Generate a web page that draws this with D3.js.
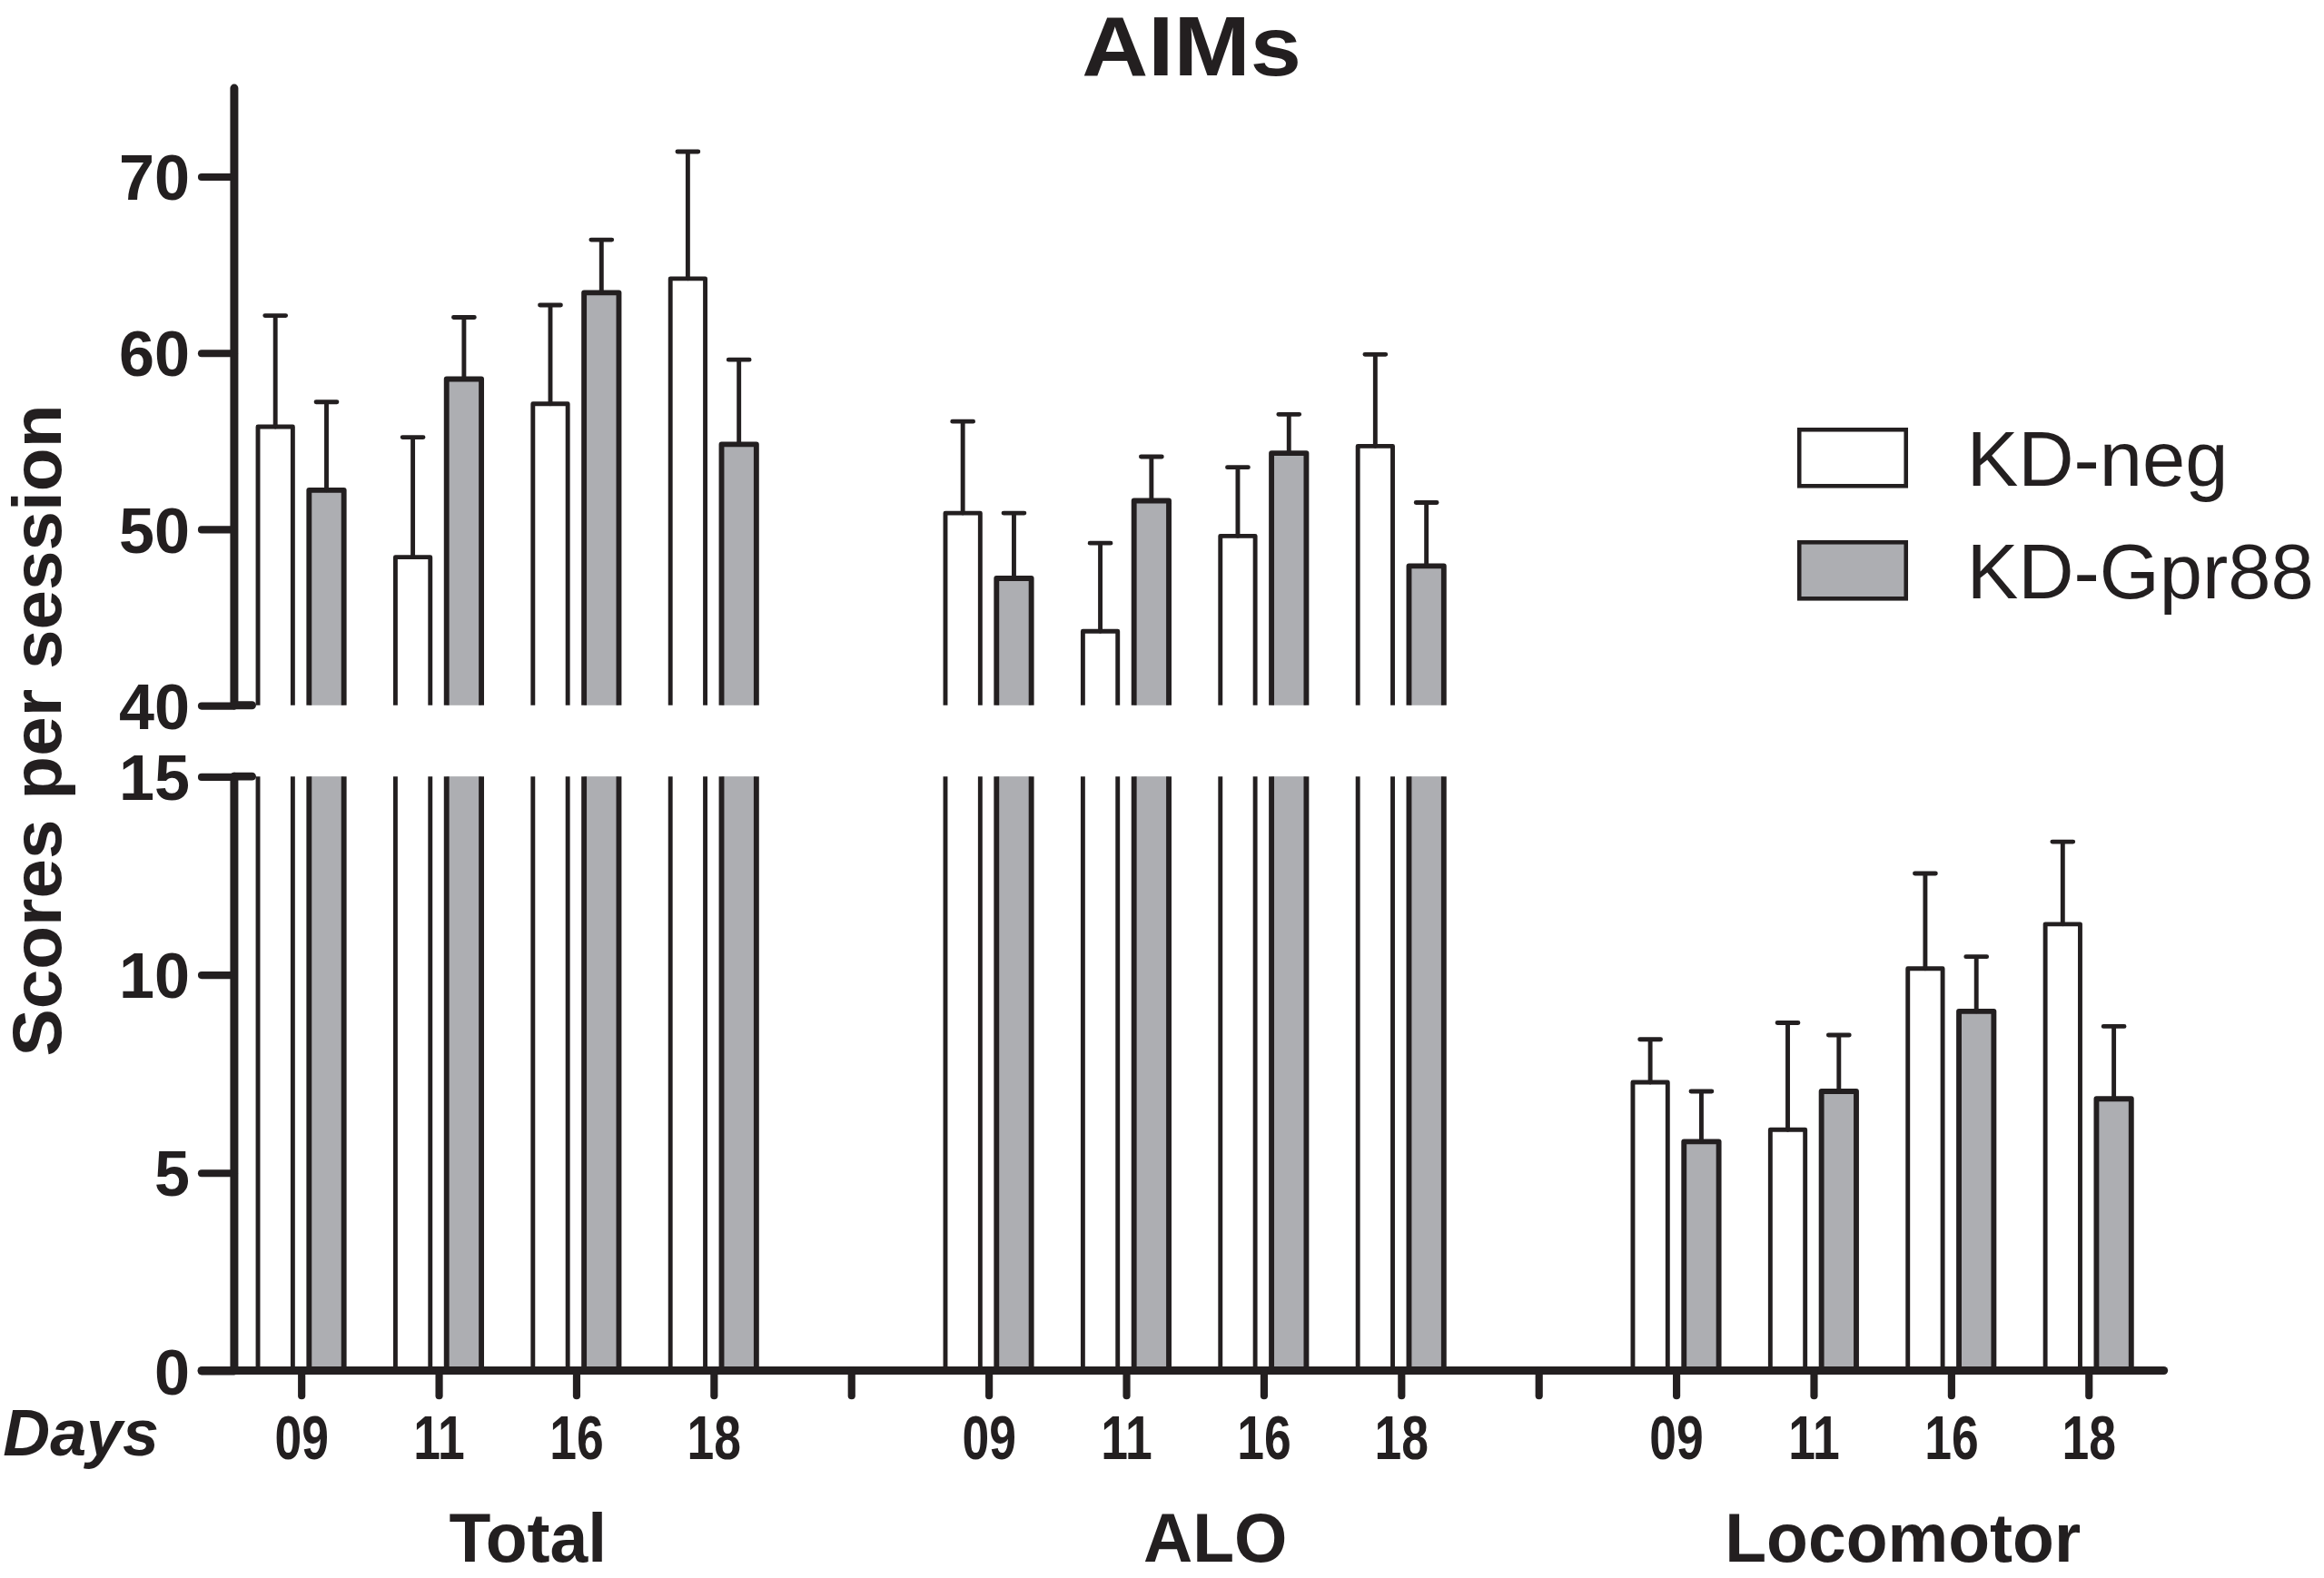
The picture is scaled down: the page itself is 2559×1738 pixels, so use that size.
<!DOCTYPE html>
<meta charset="utf-8">
<head>
    <title>AIMs</title>
    <script src="https://cdn.jsdelivr.net/npm/d3@7"></script>
    <style>
        body { margin: 0; background: #fff; }
        text { font-family: "Liberation Sans", Arial, sans-serif; fill: #231f20; }
    </style>
</head>
<body>
<script>
    // data
    const groups = ["Total", "ALO", "Locomotor"];
    const days = ["09", "11", "16", "18"];
    const series = ["KD-neg", "KD-Gpr88"];

    const totalNeg = [55.8, 48.4, 57.1, 64.2];
    const totalNegErr = [6.3, 6.8, 5.6, 7.2];
    const totalGpr = [52.2, 58.5, 63.4, 54.8];
    const totalGprErr = [5.0, 3.5, 3.0, 4.8];

    const aloNeg = [50.9, 44.2, 49.6, 54.7];
    const aloNegErr = [5.2, 5.0, 3.9, 5.2];
    const aloGpr = [47.2, 51.6, 54.3, 47.9];
    const aloGprErr = [3.7, 2.5, 2.2, 3.6];

    const locoNeg = [7.28, 6.08, 10.15, 11.27];
    const locoNegErr = [1.08, 2.7, 2.4, 2.08];
    const locoGpr = [5.78, 7.05, 9.07, 6.86];
    const locoGprErr = [1.27, 1.42, 1.38, 1.83];

    const upperTicks = [40, 50, 60, 70];
    const lowerTicks = [0, 5, 10, 15];

    const ink = "#231f20";
    const fills = ["#ffffff", "#adaeb2"];

    // svg drawn in a 1568 wide coordinate frame, scaled up to the page
    const W = 1568, H = 1065;
    const svg = d3.select("body").append("svg")
        .attr("width", 2559).attr("height", 1738)
        .attr("viewBox", "0 0 " + W + " " + H);

    const axisX = 158;
    const yUpper = d3.scaleLinear().domain([40, 75]).range([476, 59.5]);
    const yLower = d3.scaleLinear().domain([0, 15]).range([925, 524]);

    // 4 days per group plus one empty slot between groups
    const slots = d3.range(groups.length * 5 - 1);
    const x = d3.scalePoint().domain(slots).range([203, 1409]);
    const slotOf = (g, d) => g * 5 + d;

    const table = [
        [totalNeg, totalNegErr, totalGpr, totalGprErr],
        [aloNeg, aloNegErr, aloGpr, aloGprErr],
        [locoNeg, locoNegErr, locoGpr, locoGprErr]
    ];
    const bars = [];
    groups.forEach((g, gi) => {
        days.forEach((d, di) => {
            series.forEach((s, si) => {
                bars.push({
                    group: g, broken: gi < 2, day: d, s: si,
                    value: table[gi][si * 2][di], err: table[gi][si * 2 + 1][di],
                    cx: x(slotOf(gi, di))
                });
            });
        });
    });

    const barW = 23.5, half = 5.5, capW = 14;
    const left = b => b.s === 0 ? b.cx - half - barW : b.cx + half;
    const sw = b => b.s === 0 ? 3.0 : 3.6;

    const gBars = svg.append("g");

    // broken groups: lower stub from 0 to 15, open top
    const broken = bars.filter(b => b.broken);
    gBars.selectAll("rect.stub").data(broken).enter().append("rect")
        .attr("class", "stub")
        .attr("x", left).attr("width", barW)
        .attr("y", yLower(15)).attr("height", yLower(0) - yLower(15))
        .attr("fill", b => fills[b.s]);
    gBars.selectAll("path.stub").data(broken).enter().append("path")
        .attr("d", b => "M" + left(b) + "," + yLower(15) + "V" + yLower(0) +
            "M" + (left(b) + barW) + "," + yLower(15) + "V" + yLower(0))
        .attr("fill", "none").attr("stroke", ink)
        .attr("stroke-width", sw);

    // broken groups: upper part from 40, open bottom
    gBars.selectAll("rect.up").data(broken).enter().append("rect")
        .attr("x", left).attr("width", barW)
        .attr("y", b => yUpper(b.value)).attr("height", b => yUpper(40) - yUpper(b.value))
        .attr("fill", b => fills[b.s]);
    gBars.selectAll("path.up").data(broken).enter().append("path")
        .attr("d", b => "M" + left(b) + "," + yUpper(40) + "V" + yUpper(b.value) +
            "H" + (left(b) + barW) + "V" + yUpper(40))
        .attr("fill", "none").attr("stroke", ink).attr("stroke-linejoin", "round")
        .attr("stroke-width", sw);

    // locomotor: ordinary bars
    const whole = bars.filter(b => !b.broken);
    gBars.selectAll("rect.whole").data(whole).enter().append("rect")
        .attr("x", left).attr("width", barW)
        .attr("y", b => yLower(b.value)).attr("height", b => yLower(0) - yLower(b.value))
        .attr("fill", b => fills[b.s]).attr("stroke", ink)
        .attr("stroke-linejoin", "round")
        .attr("stroke-width", sw);

    // error bars (upper only)
    const yOf = b => b.broken ? yUpper : yLower;
    const errG = svg.append("g").attr("stroke", ink).attr("stroke-width", 3.0);
    errG.selectAll("path").data(bars).enter().append("path")
        .attr("fill", "none").attr("stroke-linecap", "round")
        .attr("d", b => {
            const xc = left(b) + barW / 2, y = yOf(b);
            return "M" + xc + "," + y(b.value) + "V" + y(b.value + b.err) +
                "M" + (xc - capW / 2) + "," + y(b.value + b.err) + "H" + (xc + capW / 2);
        });

    // y axis, two segments
    const axisStyle = sel => {
        sel.select(".domain").remove();
        sel.selectAll(".tick line").attr("stroke", ink).attr("stroke-width", 5)
            .attr("stroke-linecap", "round");
        sel.selectAll(".tick text").attr("font-size", 43).attr("font-weight", "bold")
            .attr("fill", ink).attr("font-family", "Liberation Sans, Arial, sans-serif");
    };
    svg.append("g").attr("transform", "translate(" + axisX + ",0)")
        .call(d3.axisLeft(yUpper).tickValues(upperTicks).tickSize(22).tickPadding(8))
        .call(axisStyle);
    svg.append("g").attr("transform", "translate(" + axisX + ",0)")
        .call(d3.axisLeft(yLower).tickValues(lowerTicks).tickSize(22).tickPadding(8))
        .call(axisStyle);
    svg.selectAll(".tick text").attr("dy", "0.36em");

    // axis lines and break marks
    const axisLines = svg.append("g").attr("stroke", ink).attr("stroke-width", 5.5)
        .attr("stroke-linecap", "round").attr("fill", "none");
    axisLines.append("line").attr("x1", axisX).attr("x2", axisX)
        .attr("y1", yUpper(75)).attr("y2", yUpper(40));
    axisLines.append("line").attr("x1", axisX).attr("x2", axisX)
        .attr("y1", yLower(15)).attr("y2", yLower(0));
    axisLines.append("line").attr("x1", axisX).attr("x2", axisX + 12)
        .attr("y1", yUpper(40)).attr("y2", yUpper(40));
    axisLines.append("line").attr("x1", axisX).attr("x2", axisX + 12)
        .attr("y1", yLower(15)).attr("y2", yLower(15));

    // x axis
    const xAxis = d3.axisBottom(x).tickSize(17).tickPadding(12)
        .tickFormat(i => (i % 5 === 4) ? "" : days[i % 5]);
    const gx = svg.append("g").attr("transform", "translate(0," + yLower(0) + ")").call(xAxis);
    gx.select(".domain").remove();
    gx.selectAll(".tick line").attr("stroke", ink).attr("stroke-width", 5)
        .attr("stroke-linecap", "round");
    gx.selectAll(".tick text").attr("font-size", 42).attr("font-weight", "bold")
        .attr("fill", ink).attr("y", 60).attr("dy", 0)
        .attr("transform", "scale(0.78,1)");
    axisLines.append("line").attr("x1", 136).attr("x2", 1460)
        .attr("y1", yLower(0)).attr("y2", yLower(0));

    svg.append("text").attr("x", 2).attr("y", 982)
        .attr("font-size", 44).attr("font-weight", "bold").attr("font-style", "italic")
        .text("Days");

    // group labels
    svg.append("g").selectAll("text").data(groups).enter().append("text")
        .attr("x", (g, gi) => (x(slotOf(gi, 0)) + x(slotOf(gi, 3))) / 2 + 14)
        .attr("y", 1054).attr("text-anchor", "middle")
        .attr("font-size", 46).attr("font-weight", "bold")
        .text(g => g);

    // y title
    svg.append("text")
        .attr("transform", "translate(41,493) rotate(-90)")
        .attr("text-anchor", "middle").attr("font-size", 46).attr("font-weight", "bold")
        .attr("textLength", 440).attr("lengthAdjust", "spacingAndGlyphs")
        .text("Scores per session");

    // title
    svg.append("text").attr("x", 804).attr("y", 51).attr("text-anchor", "middle")
        .attr("font-size", 57).attr("font-weight", "bold")
        .attr("textLength", 148).attr("lengthAdjust", "spacingAndGlyphs")
        .text("AIMs");

    // legend
    const legend = svg.append("g").attr("transform", "translate(1214,290)");
    const item = legend.selectAll("g").data(series).enter().append("g")
        .attr("transform", (s, i) => "translate(0," + i * 76 + ")");
    item.append("rect").attr("width", 72).attr("height", 38)
        .attr("fill", (s, i) => fills[i]).attr("stroke", ink).attr("stroke-width", 2.8);
    item.append("text").attr("x", 113).attr("y", 38)
        .attr("font-size", 52).text(s => s);
</script>
</body>
</html>
